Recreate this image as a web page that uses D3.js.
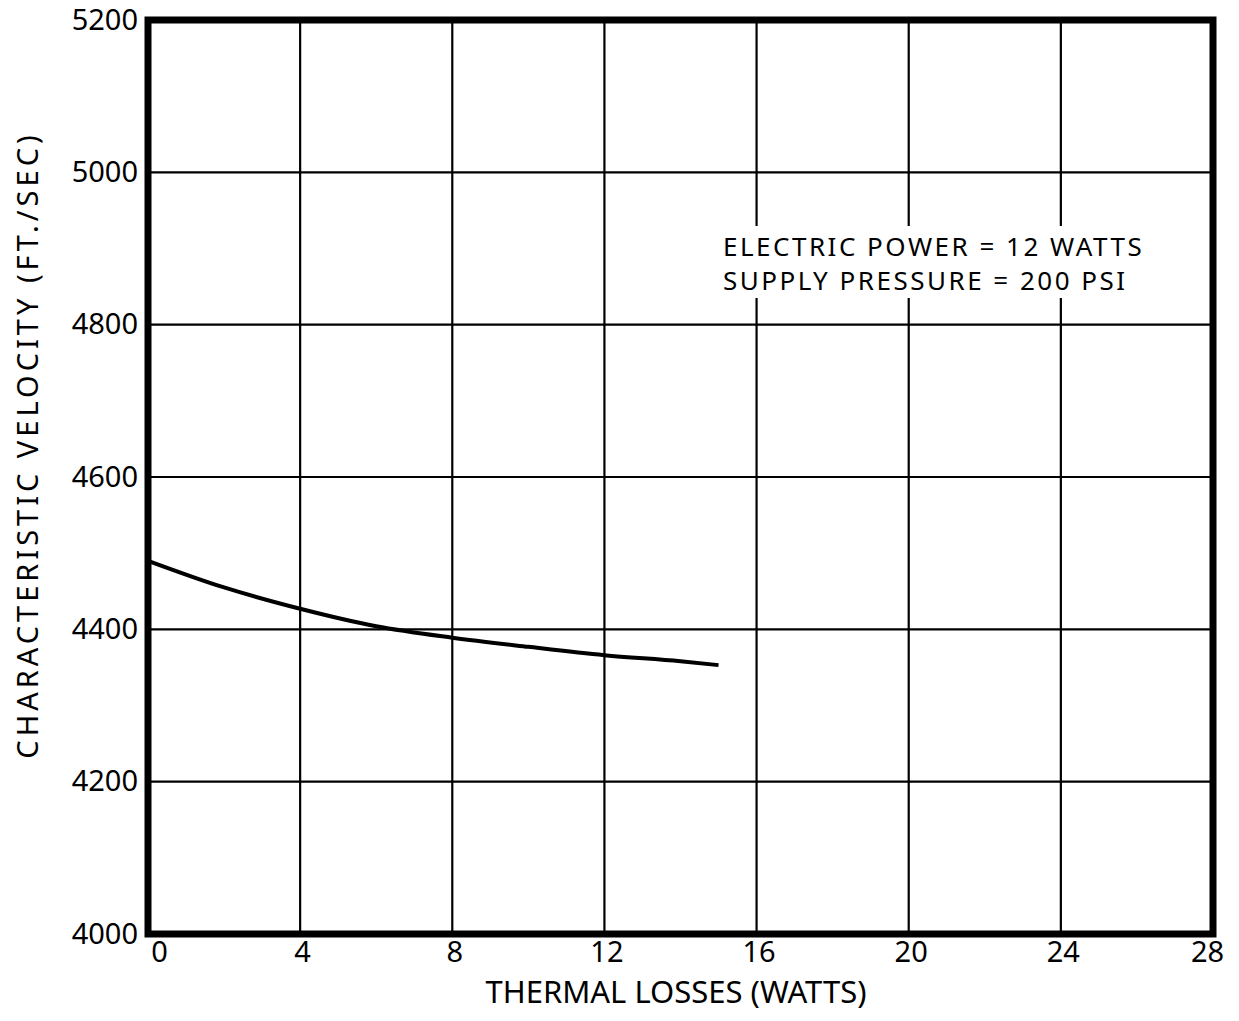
<!DOCTYPE html>
<html>
<head>
<meta charset="utf-8">
<script src="https://cdn.jsdelivr.net/npm/d3@7/dist/d3.min.js"></script>
<style>
  html, body { margin: 0; padding: 0; background: #fff; }
  svg { display: block; }
  text { font-family: "Noto Sans", "DejaVu Sans", sans-serif; fill: #000; }
</style>
</head>
<body>
<svg id="chart" width="1239" height="1021"></svg>
<script>
// Thermal losses (W) and characteristic velocity (ft/s)
const thermalLosses = [0, 2, 4, 6, 8, 10, 12, 14, 15];
const charVelocity  = [4490, 4455, 4427, 4404, 4389, 4377, 4366, 4358, 4353];

const xTicks = [0, 4, 8, 12, 16, 20, 24, 28];
const yTicks = [4000, 4200, 4400, 4600, 4800, 5000, 5200];

const notes = ["ELECTRIC POWER = 12 WATTS", "SUPPLY PRESSURE = 200 PSI"];
const xTitle = "THERMAL LOSSES (WATTS)";
const yTitle = "CHARACTERISTIC VELOCITY (FT./SEC)";

const svg = d3.select("#chart");
const plot = { left: 148, right: 1213, top: 20, bottom: 934 };

const x = d3.scaleLinear().domain([0, 28]).range([plot.left, plot.right]);
const y = d3.scaleLinear().domain([4000, 5200]).range([plot.bottom, plot.top]);

svg.append("rect").attr("width", 1239).attr("height", 1021).attr("fill", "#fff");

// grid
const grid = svg.append("g").attr("stroke", "#000").attr("stroke-width", 2.2);
grid.selectAll("line.v").data(xTicks.slice(1, -1)).join("line")
  .attr("class", "v")
  .attr("x1", d => x(d)).attr("x2", d => x(d))
  .attr("y1", plot.top).attr("y2", plot.bottom);
grid.selectAll("line.h").data(yTicks.slice(1, -1)).join("line")
  .attr("class", "h")
  .attr("x1", plot.left).attr("x2", plot.right)
  .attr("y1", d => y(d)).attr("y2", d => y(d));

// frame
svg.append("rect")
  .attr("x", plot.left).attr("y", plot.top)
  .attr("width", plot.right - plot.left).attr("height", plot.bottom - plot.top)
  .attr("fill", "none").attr("stroke", "#000").attr("stroke-width", 7);

// axes (labels only)
const yAxis = d3.axisLeft(y).tickValues(yTicks).tickSize(0).tickPadding(7).tickFormat(d3.format("d"));
const gy = svg.append("g").attr("transform", `translate(${plot.left - 3},0)`).call(yAxis);
gy.select(".domain").remove();
gy.selectAll("text").attr("font-size", 29).style("font-family", "'Noto Sans', sans-serif");

const xAxis = d3.axisBottom(x).tickValues(xTicks).tickSize(0).tickPadding(4).tickFormat(d3.format("d"));
const gx = svg.append("g").attr("transform", `translate(0,${plot.bottom + 3})`).call(xAxis);
gx.select(".domain").remove();
gx.selectAll("text").attr("font-size", 29).style("font-family", "'Noto Sans', sans-serif")
  .attr("dx", d => d === 0 ? 11 : d === 28 ? -6 : 2);

// curve
const line = d3.line()
  .x((d, i) => x(thermalLosses[i]))
  .y(d => y(d))
  .curve(d3.curveMonotoneX);
svg.append("path")
  .datum(charVelocity)
  .attr("d", line)
  .attr("fill", "none").attr("stroke", "#000")
  .attr("stroke-width", 4).attr("stroke-linecap", "butt");

// annotation block, with the grid masked behind it
svg.append("rect")
  .attr("x", 716).attr("y", 226).attr("width", 436).attr("height", 72)
  .attr("fill", "#fff");
svg.selectAll("text.note").data(notes).join("text")
  .attr("class", "note")
  .attr("x", 723).attr("y", (d, i) => 256 + i * 34)
  .attr("font-size", 26)
  .attr("letter-spacing", 2.5)
  .text(d => d);

// axis titles
svg.append("text")
  .attr("x", 676).attr("y", 1003)
  .attr("text-anchor", "middle").attr("font-size", 31)
  .text(xTitle);

svg.append("text")
  .attr("transform", `translate(38,445) rotate(-90)`)
  .attr("text-anchor", "middle").attr("font-size", 29)
  .attr("letter-spacing", 4)
  .text(yTitle);
</script>
</body>
</html>
